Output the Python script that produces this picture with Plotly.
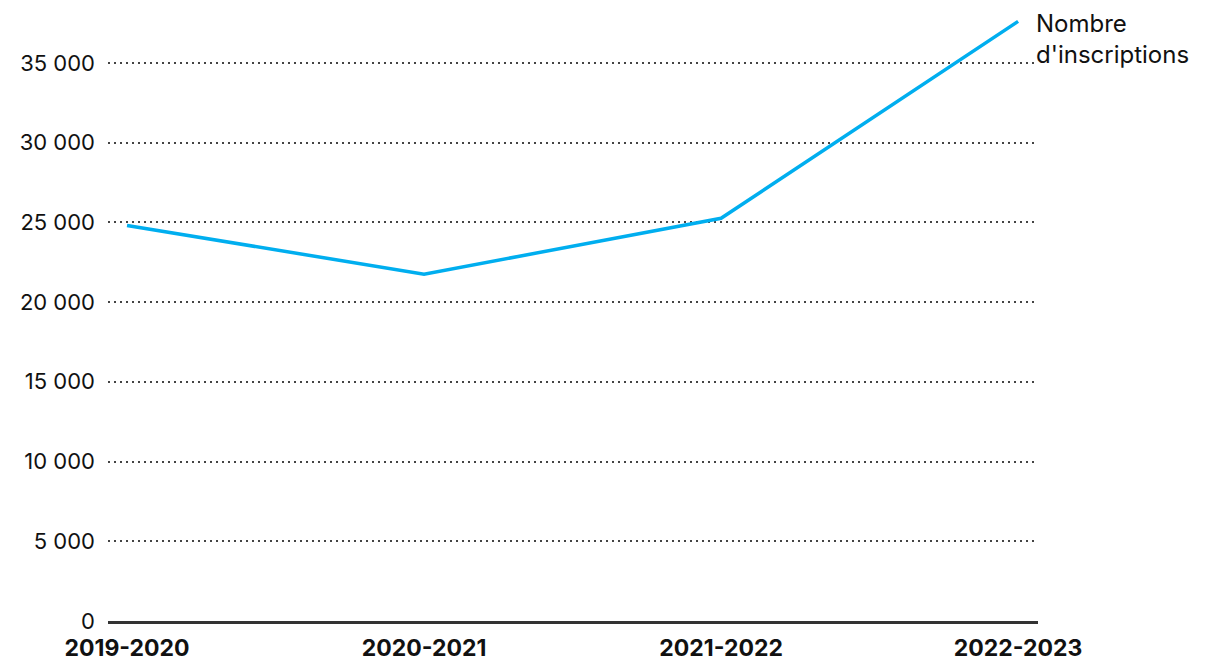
import plotly.graph_objects as go

categories = ["2019-2020", "2020-2021", "2021-2022", "2022-2023"]
inscriptions = [24800, 21750, 25250, 37600]
y_ticks = [0, 5000, 10000, 15000, 20000, 25000, 30000, 35000]
y_tick_labels = ["0", "5 000", "10 000", "15 000", "20 000", "25 000", "30 000", "35 000"]
series_name = "Nombre<br>d'inscriptions"

FONT = "Inter"
fig = go.Figure()
fig.add_trace(go.Scatter(
    x=list(range(len(categories))), y=inscriptions, mode="lines",
    line=dict(color="#00AEEF", width=3.5), hoverinfo="skip", showlegend=False,
))
fig.add_annotation(
    x=len(categories) - 1, y=inscriptions[-1], text=series_name, showarrow=False,
    xanchor="left", yanchor="top", xshift=16, yshift=14, align="left",
    font=dict(family=FONT, size=24, color="#111111"),
)
fig.update_layout(
    width=1212, height=660,
    margin=dict(l=100, r=182, t=7, b=47),
    paper_bgcolor="white", plot_bgcolor="white",
    font=dict(family=FONT, size=22, color="#111111"),
)
fig.update_xaxes(
    range=[-0.064, 3.067], tickmode="array",
    tickvals=list(range(len(categories))), ticktext=categories,
    tickfont=dict(family=FONT, size=23, color="#111111", weight="bold"),
    showgrid=False, zeroline=False, showline=True, linecolor="#333333", linewidth=2.5,
    ticks="", ticklabelstandoff=5,
)
fig.update_yaxes(
    range=[0, 38000], tickmode="array", tickvals=y_ticks, ticktext=y_tick_labels,
    showgrid=True, gridcolor="#444444", griddash="1.5px,4.5px", gridwidth=1.5,
    zeroline=False, showline=False, ticks="", ticklabelstandoff=12,
    tickfont=dict(family=FONT, size=22, color="#111111"),
)
fig.write_html("out.html")
